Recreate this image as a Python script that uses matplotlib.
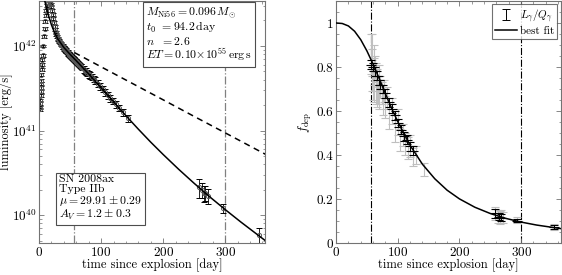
import numpy as np
import matplotlib
matplotlib.use("Agg")
import matplotlib.pyplot as plt
from matplotlib.ticker import MultipleLocator

plt.rcParams['font.family'] = 'serif'
plt.rcParams['font.serif'] = ['cmr10']
plt.rcParams['mathtext.fontset'] = 'cm'
plt.rcParams['axes.formatter.use_mathtext'] = True
plt.rcParams['font.size'] = 9

# --- left panel: bolometric light curve (day, erg/s) ---
t_lc = [1.5, 1.7, 2.0, 2.2, 2.5, 2.8, 3.0, 3.3, 3.5, 4.0, 4.5, 5.0, 5.5, 6.0, 7.0,
        8.0, 9.0, 10.0, 11.0, 12.0, 13.0, 14.0, 15.0, 16.0, 17.0, 18.0, 19.0, 20.0,
        21.0, 22.0, 23.0, 24.0, 25.0, 26.0, 27.0, 28.0, 29.0, 30.0, 31.0, 32.0, 33.0,
        34.0, 35.0, 36.0, 37.0, 38.0, 39.0, 40.0, 41.0, 42.0, 43.0, 44.0, 45.0, 46.0,
        47.0, 48.0, 49.0, 50.0, 51.0, 52.0, 53.0, 54.0, 55.0, 56.0, 57.0, 58.0, 59.0,
        60.0, 61.0, 62.0, 63.0, 64.0, 65.0, 66.0, 67.0, 68.0, 70.0, 72.0, 74.0, 76.0,
        78.0, 80.0, 82.0, 85.0, 88.0, 91.0, 95.0, 99.0, 103.0, 107.0, 111.0, 115.0,
        119.0, 124.0, 129.0, 135.0, 143.0,
        258.0, 262.0, 265.0, 268.0, 272.0, 296.0, 354.0]
L_lc = [1.8e41, 1.9e41, 2.1e41, 2.3e41, 2.6e41, 2.9e41, 3.2e41, 3.6e41, 3.9e41, 4.6e41,
        5.3e41, 6.0e41, 6.9e41, 7.8e41, 1.0e42, 1.3e42, 1.6e42, 1.95e42, 2.3e42, 2.65e42,
        3.0e42, 3.3e42, 3.5e42, 3.6e42, 3.5e42, 3.3e42, 3.1e42, 2.9e42, 2.6e42, 2.35e42,
        2.1e42, 1.88e42, 1.7e42, 1.55e42, 1.45e42, 1.37e42, 1.3e42, 1.24e42, 1.2e42,
        1.16e42, 1.13e42, 1.1e42, 1.07e42, 1.04e42, 1.01e42, 0.99e42, 0.97e42, 0.95e42,
        0.93e42, 0.91e42, 0.89e42, 0.87e42, 0.85e42, 0.84e42, 0.82e42, 0.8e42, 0.79e42,
        0.77e42, 0.76e42, 0.745e42, 0.73e42, 0.72e42, 0.71e42, 0.70e42, 0.69e42, 0.675e42,
        0.665e42, 0.655e42, 0.645e42, 0.63e42, 0.62e42, 0.61e42, 0.60e42, 0.59e42, 0.58e42,
        0.57e42, 0.55e42, 0.53e42, 0.51e42, 0.50e42, 0.48e42, 0.465e42, 0.45e42, 0.43e42,
        0.41e42, 0.39e42, 0.36e42, 0.335e42, 0.31e42, 0.285e42, 0.26e42, 0.24e42, 0.225e42,
        0.205e42, 0.185e42, 0.165e42, 0.14e42,
        2.15e40, 2.0e40, 1.83e40, 1.85e40, 1.68e40, 1.21e40, 5.8e39]
L_err_frac = [0.04] * 45 + [0.06] * 32 + [0.09] * 20 + [0.25, 0.2, 0.22, 0.2, 0.2, 0.12, 0.22]

# best-fit model and full-trapping line
t_fit = [0, 5, 10, 15, 20, 25, 30, 40, 50, 60, 80, 100, 120, 140, 160, 180, 200,
         225, 250, 275, 300, 325, 365]
L_fit = [7.58e42, 4.84e42, 3.25e42, 2.33e42, 1.78e42, 1.44e42, 1.22e42, 9.6e41, 7.97e41,
         6.7e41, 4.68e41, 3.21e41, 2.19e41, 1.50e41, 1.04e41, 7.30e40, 5.22e40, 3.49e40,
         2.38e40, 1.65e40, 1.165e40, 8.33e39, 4.98e39]
t_trap = [57, 100, 150, 200, 250, 300, 365]
L_trap = [8.36e41, 5.67e41, 3.62e41, 2.31e41, 1.47e41, 9.4e40, 5.24e40]

# --- right panel: deposition fraction ---
t_dep = [57, 58, 58.5, 59, 60, 61, 61.5, 62, 63, 64, 65, 66, 67, 68, 69, 70, 72,
         74, 76, 78, 80, 83, 86, 90, 95, 100, 104, 108, 112, 116, 120, 124, 130, 143,
         258, 262, 265, 268, 271, 294, 353]
f_dep = [0.86, 0.88, 0.76, 0.82, 0.72, 0.84, 0.70, 0.78, 0.80, 0.69, 0.77, 0.67, 0.74,
         0.68, 0.76, 0.66, 0.71, 0.68, 0.63, 0.69, 0.62, 0.66, 0.57, 0.60, 0.52, 0.55,
         0.47, 0.49, 0.45, 0.43, 0.44, 0.39, 0.40, 0.335,
         0.135, 0.12, 0.115, 0.125, 0.118, 0.104, 0.073]
f_err_gray = [0.09, 0.07, 0.07, 0.06, 0.07, 0.06, 0.06, 0.06, 0.05, 0.06, 0.05, 0.05,
              0.05, 0.05, 0.05, 0.05, 0.05, 0.05, 0.05, 0.05, 0.05, 0.05, 0.05, 0.06,
              0.06, 0.06, 0.05, 0.05, 0.05, 0.05, 0.05, 0.04, 0.04, 0.03,
              0.03, 0.03, 0.03, 0.025, 0.025, 0.015, 0.012]
t_bin = [57, 60, 63, 66, 69, 72, 76, 80, 85, 90, 95, 100, 105, 110, 115, 120, 125,
         258, 264, 268, 294, 353]
f_bin = [0.81, 0.80, 0.78, 0.76, 0.74, 0.72, 0.70, 0.68, 0.64, 0.61, 0.58, 0.545,
         0.515, 0.485, 0.47, 0.44, 0.42, 0.135, 0.12, 0.115, 0.102, 0.072]
f_bin_err = [0.02] * 17 + [0.02, 0.015, 0.015, 0.008, 0.008]

t_fdep = [0, 10, 20, 30, 40, 50, 60, 70, 80, 90, 100, 120, 140, 160, 180, 200, 225,
          250, 275, 300, 325, 365]
f_fdep = [1.0, 0.9977, 0.9865, 0.9625, 0.924, 0.873, 0.813, 0.747, 0.679, 0.613, 0.5515,
          0.444, 0.358, 0.292, 0.240, 0.2005, 0.1625, 0.134, 0.112, 0.095, 0.0816, 0.0651]

fig = plt.figure(figsize=(5.62, 2.75), dpi=100)
ax1 = fig.add_axes([0.0694, 0.1164, 0.4021, 0.8800])
ax2 = fig.add_axes([0.5980, 0.1164, 0.3995, 0.8800])

L_lc = np.array(L_lc)
L_err = L_lc * np.array(L_err_frac)
ax1.errorbar(t_lc, L_lc, yerr=L_err, fmt='o', ms=3, mfc='none', mec='0.35', mew=0.7,
             ecolor='k', elinewidth=0.6, capsize=2, capthick=0.6, zorder=2)
ax1.plot(t_fit, L_fit, 'k-', lw=1.1, zorder=3)
ax1.plot(t_trap, L_trap, 'k--', lw=1.1, dashes=(4, 3), zorder=3)
for tv in [57, 300]:
    ax1.axvline(tv, color='0.5', ls='-.', lw=0.9, zorder=1)
ax1.set_yscale('log')
ax1.set_xlim(0, 364)
ax1.set_ylim(4.7e39, 3.4e42)
ax1.set_xticks([0, 100, 200, 300])
ax1.xaxis.set_minor_locator(MultipleLocator(20))
ax1.set_xlabel('time since explosion [day]', labelpad=0)
ax1.set_ylabel('luminosity [erg/s]', labelpad=-1)

ax1.text(0.475, 0.982,
         '$M_{\\rm Ni56}=0.096\\,M_{\\odot}$\n$t_0\\;\\,=94.2\\,{\\rm day}$\n'
         '$n\\;\\;\\,=2.6$\n$ET=0.10{\\times}10^{55}\\,{\\rm erg\\,s}$',
         transform=ax1.transAxes, ha='left', va='top', fontsize=8.5, linespacing=1.0,
         bbox=dict(boxstyle='square,pad=0.25', fc='white', ec='0.3', lw=0.8))
ax1.text(0.09, 0.285,
         'SN 2008ax\nType IIb\n$\\mu=29.91\\pm0.29$\n$A_V=1.2\\pm0.3$',
         transform=ax1.transAxes, ha='left', va='top', fontsize=8.5, linespacing=1.0,
         bbox=dict(boxstyle='square,pad=0.25', fc='white', ec='0.3', lw=0.8))

ax2.errorbar(t_dep, f_dep, yerr=f_err_gray, fmt='none', ecolor='0.75', elinewidth=0.8,
             capsize=3, capthick=0.8, zorder=1)
ax2.errorbar(t_bin, f_bin, yerr=f_bin_err, fmt='_', ms=7, mew=0.8, color='k',
             ecolor='k', elinewidth=0.7, capsize=3, capthick=0.7, zorder=3)
h_err = ax2.errorbar([np.nan], [np.nan], yerr=[0.01], fmt='none', ecolor='k',
                     elinewidth=0.7, capsize=3, capthick=0.7)
h_fit, = ax2.plot(t_fdep, f_fdep, 'k-', lw=1.1, zorder=4)
for tv in [57, 300]:
    ax2.axvline(tv, color='k', ls='-.', lw=0.8, zorder=0)
ax2.set_xlim(0, 364)
ax2.set_ylim(0, 1.1)
ax2.set_xticks([0, 100, 200, 300])
ax2.set_yticks([0, 0.2, 0.4, 0.6, 0.8, 1.0])
ax2.set_yticklabels(['0', '0.2', '0.4', '0.6', '0.8', '1'])
ax2.xaxis.set_minor_locator(MultipleLocator(20))
ax2.yaxis.set_minor_locator(MultipleLocator(0.05))
ax2.set_xlabel('time since explosion [day]', labelpad=0)
ax2.set_ylabel('$f_{\\rm dep}$', labelpad=2)
leg = ax2.legend([h_err, h_fit], ['$L_\\gamma/Q_\\gamma$', 'best fit'], loc='upper right',
                 fontsize=8, frameon=True, fancybox=False, borderpad=0.25,
                 handlelength=2.0, handletextpad=0.3, labelspacing=0.15,
                 borderaxespad=0.3)
leg.get_frame().set_edgecolor('0.3')
leg.get_frame().set_linewidth(0.8)

for ax in (ax1, ax2):
    ax.tick_params(which='both', direction='in', top=True, right=True, colors='0.45',
                   labelcolor='k', labelsize=9.5, pad=2)
    ax.tick_params(which='major', length=3.5, width=0.6)
    ax.tick_params(which='minor', length=1.8, width=0.5)
    for s in ax.spines.values():
        s.set_color('0.45')
        s.set_linewidth(0.8)

fig.savefig('out.png', dpi=100)
